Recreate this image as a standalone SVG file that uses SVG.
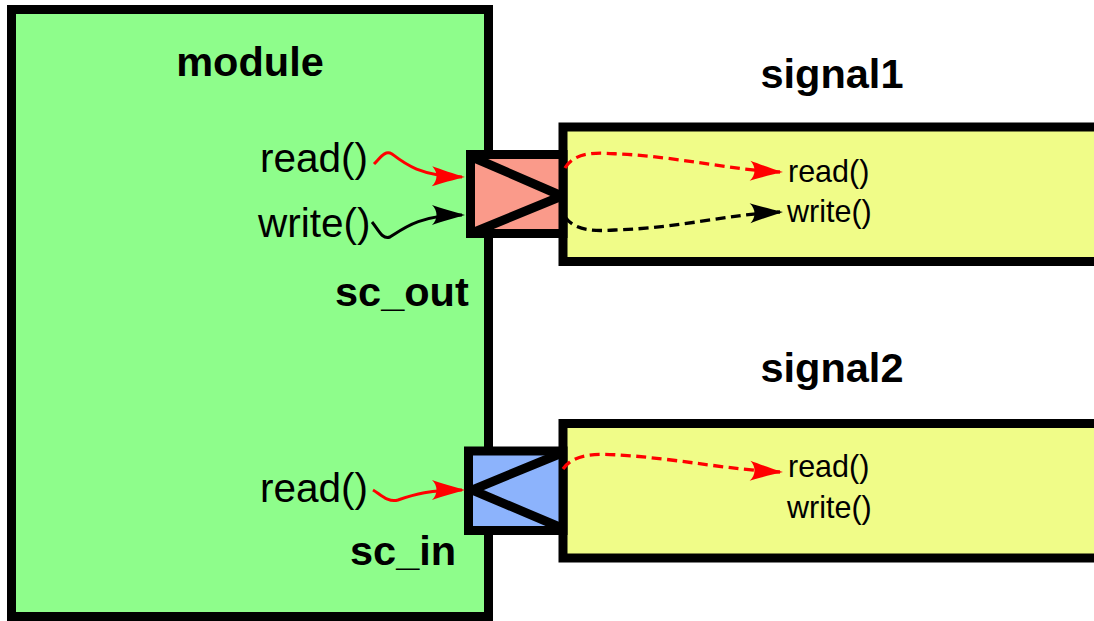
<svg xmlns="http://www.w3.org/2000/svg" width="1094" height="621" viewBox="0 0 1094 621">
  <style>
    .box { stroke: #000; stroke-width: 9; }
    .module { fill: #8efd8b; }
    .signal { fill: #f0fc88; }
    .port-out { fill: #fa9a8a; }
    .port-in { fill: #8cb3fc; }
    .tri { fill: none; stroke: #000; stroke-width: 9; stroke-linejoin: miter; }
    .title { font-family: "Liberation Sans", Arial, sans-serif; font-weight: bold; font-size: 41.5px; fill: #000; }
    .call { font-family: "Liberation Sans", Arial, sans-serif; font-size: 40.5px; fill: #000; }
    .method { font-family: "Liberation Sans", Arial, sans-serif; font-size: 30.5px; fill: #000; }
    .wire { fill: none; stroke-width: 3; stroke-linecap: butt; }
    .red { stroke: #ff0000; }
    .black { stroke: #000; }
    .dash { stroke-width: 3.3; stroke-dasharray: 10 5.5; }
  </style>
  <defs>
    <marker id="arrow-red" markerUnits="userSpaceOnUse" markerWidth="40" markerHeight="30" viewBox="-34 -15 40 30" refX="0" refY="0" orient="auto">
      <path d="M3,0 C-8,-3 -21,-7 -30,-10 C-24,-4 -24,4 -30,10 C-21,7 -8,3 3,0 Z" fill="#ff0000"/>
    </marker>
    <marker id="arrow-black" markerUnits="userSpaceOnUse" markerWidth="40" markerHeight="30" viewBox="-34 -15 40 30" refX="0" refY="0" orient="auto">
      <path d="M3,0 C-8,-3 -21,-7 -30,-10 C-24,-4 -24,4 -30,10 C-21,7 -8,3 3,0 Z" fill="#000"/>
    </marker>
    <clipPath id="clip-out"><rect x="466" y="150" width="97" height="88"/></clipPath>
    <clipPath id="clip-in"><rect x="464" y="446.5" width="99" height="88.5"/></clipPath>
  </defs>

  <g id="module">
    <rect class="box module" x="11.5" y="9.5" width="477" height="607"/>
    <text class="title" x="250" y="76" text-anchor="middle">module</text>
    <text class="call" x="260" y="172">read()</text>
    <text class="call" x="258" y="237">write()</text>
    <text class="call" x="260" y="502">read()</text>
  </g>

  <g id="signal1">
    <rect class="box signal" x="563" y="127" width="540" height="134.5"/>
    <text class="title" x="832" y="88" text-anchor="middle">signal1</text>
    <text class="method" x="788" y="182">read()</text>
    <text class="method" x="787" y="222">write()</text>
  </g>

  <g id="signal2">
    <rect class="box signal" x="563" y="423.5" width="540" height="134.5"/>
    <text class="title" x="832" y="382" text-anchor="middle">signal2</text>
    <text class="method" x="788" y="477">read()</text>
    <text class="method" x="787" y="518">write()</text>
  </g>

  <g id="sc_out">
    <rect class="port-out" x="470.5" y="154.5" width="92.5" height="79"/>
    <polyline class="tri" points="472,157 562,196 472,233" clip-path="url(#clip-out)"/>
    <rect x="470.5" y="154.5" width="92.5" height="79" fill="none" stroke="#000" stroke-width="9"/>
    <text class="title" x="335" y="306">sc_out</text>
  </g>

  <g id="sc_in">
    <rect class="port-in" x="468.5" y="451" width="94.5" height="79.5"/>
    <polyline class="tri" points="562,453 472,490 562,528" clip-path="url(#clip-in)"/>
    <rect x="468.5" y="451" width="94.5" height="79.5" fill="none" stroke="#000" stroke-width="9"/>
    <text class="title" x="350" y="565">sc_in</text>
  </g>

  <g id="connectors">
    <!-- module calls into the ports -->
    <path class="wire red" d="M374,164 C381,157 385,150 392,154 C405,164 420,176 462,177" marker-end="url(#arrow-red)"/>
    <path class="wire black" d="M372,222 C378,229 382,240 390,237 C404,228 420,215 462,215" marker-end="url(#arrow-black)"/>
    <path class="wire red" d="M373,490 C380,494 388,503 398,500 C415,494 430,490 462,490" marker-end="url(#arrow-red)"/>
    <!-- ports forward to the channel methods -->
    <path class="wire red dash" d="M565,168 C576,150 600,153 620,154 C680,157 730,170 780,172" marker-end="url(#arrow-red)"/>
    <path class="wire black dash" d="M565,217 C576,232 596,231 615,230 C680,228 730,214 780,212" marker-end="url(#arrow-black)"/>
    <path class="wire red dash" d="M563,469 C575,452 600,454 620,455 C680,459 730,470 780,472" marker-end="url(#arrow-red)"/>
  </g>
</svg>
